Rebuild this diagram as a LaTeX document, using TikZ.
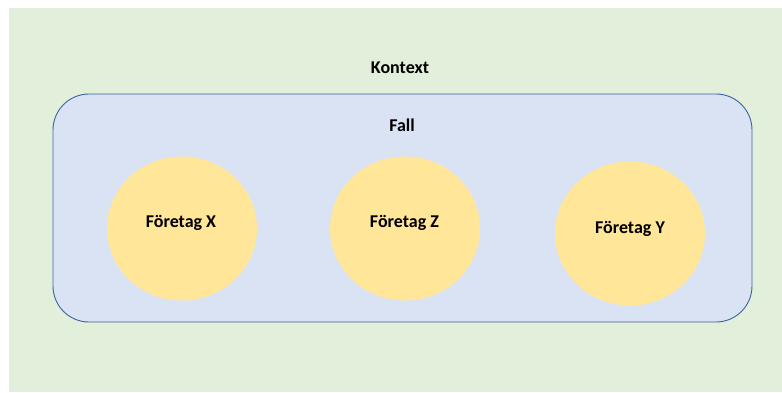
\documentclass[tikz,border=0pt]{standalone}
\usepackage{fontspec}
\setmainfont{Carlito}
\usetikzlibrary{shapes.geometric}
\definecolor{ctxgreen}{HTML}{E2EFDA}
\definecolor{casefill}{HTML}{DAE3F3}
\definecolor{caseline}{HTML}{3F62A3}
\definecolor{firmfill}{HTML}{FFE699}
\tikzset{
  label text/.style={font=\bfseries\fontsize{18}{20}\selectfont, text=black},
  firm/.style={ellipse, fill=firmfill, minimum width=150pt, minimum height=144pt, inner sep=0pt},
}
\begin{document}
\begin{tikzpicture}[x=1pt,y=-1pt]
  \useasboundingbox (0,0) rectangle (782,392);
  \fill[white] (0,0) rectangle (782,392);
  % context area
  \fill[ctxgreen] (9,8) rectangle (782,392);
  \node[label text] (kontext) at (400,68) {Kontext};
  % case box
  \node[draw=caseline, line width=0.9pt, fill=casefill, rounded corners=36pt,
        minimum width=699pt, minimum height=228pt, inner sep=0pt] (fall) at (402.5,208) {};
  \node[label text] (falltext) at (402,125) {Fall};
  % companies
  \node[firm] (x) at (182,228.5) {};
  \node[label text] (xtext) at (181,223) {Företag X};
  \node[firm] (z) at (405,228.5) {};
  \node[label text] (ztext) at (404.5,223) {Företag Z};
  \node[firm] (y) at (630,233.5) {};
  \node[label text] (ytext) at (630,229) {Företag Y};
\end{tikzpicture}
\end{document}
